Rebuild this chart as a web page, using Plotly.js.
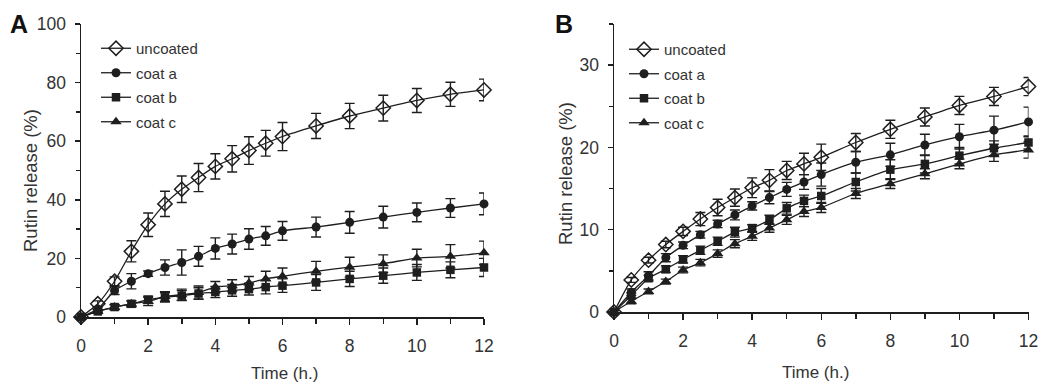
<!DOCTYPE html>
<html>
<head>
<meta charset="utf-8">
<script src="https://cdn.plot.ly/plotly-3.0.1.min.js"></script>
<style>html,body{margin:0;padding:0;background:#fff;}#chart{width:1038px;height:385px;}</style>
</head>
<body>
<div id="chart"></div>
<script>
// ---- data ----
const time = [0, 0.5, 1, 1.5, 2, 2.5, 3, 3.5, 4, 4.5, 5, 5.5, 6, 7, 8, 9, 10, 11, 12];
const seriesNames = ["uncoated", "coat a", "coat b", "coat c"];

// Panel A
const A_uncoated = [0, 4.5, 12.2, 22.4, 31.5, 38.6, 43.6, 47.6, 51.4, 54.0, 56.8, 59.3, 61.6, 65.2, 68.6, 71.3, 73.9, 76.0, 77.5];
const A_uncoated_err = [0.5, 1.0, 1.5, 3.6, 4.0, 4.3, 4.5, 4.8, 4.3, 4.5, 4.7, 4.4, 4.8, 4.3, 4.3, 4.4, 4.1, 4.1, 3.7];
const A_coatA = [0, 2.7, 9.0, 12.2, 14.8, 16.9, 18.6, 20.7, 23.4, 24.9, 26.6, 27.7, 29.4, 30.7, 32.3, 34.1, 35.7, 37.2, 38.6];
const A_coatA_err = [0.5, 0.8, 1.3, 2.6, 0.9, 2.6, 4.3, 3.4, 3.6, 3.4, 3.5, 3.2, 3.2, 3.4, 3.7, 3.7, 3.2, 3.2, 3.7];
const A_coatB = [0, 1.9, 3.4, 4.5, 5.9, 6.7, 7.3, 8.0, 8.5, 9.1, 9.5, 10.2, 10.7, 11.8, 13.0, 14.1, 15.2, 16.1, 16.9];
const A_coatB_err = [0.4, 0.6, 0.8, 1.0, 1.2, 1.6, 1.7, 2.0, 1.9, 2.0, 2.0, 2.3, 2.3, 2.7, 2.6, 2.6, 2.7, 2.7, 3.1];
const A_coatC = [0, 2.0, 3.4, 4.5, 5.3, 7.0, 7.6, 8.4, 10.2, 10.7, 11.6, 13.0, 13.9, 15.6, 17.0, 18.2, 20.1, 20.7, 21.9];
const A_coatC_err = [0.4, 0.6, 0.9, 1.0, 1.4, 1.6, 1.9, 2.2, 1.9, 2.0, 2.2, 2.6, 2.8, 3.4, 3.4, 3.0, 3.0, 4.0, 4.0];

// Panel B
const B_uncoated = [0, 3.9, 6.3, 8.2, 9.8, 11.3, 12.7, 13.9, 15.1, 16.0, 17.2, 18.0, 18.8, 20.6, 22.2, 23.7, 25.1, 26.2, 27.4];
const B_uncoated_err = [0.2, 0.3, 0.35, 0.4, 0.5, 0.8, 1.0, 1.05, 1.2, 1.3, 1.1, 1.3, 1.6, 1.1, 1.1, 1.1, 1.1, 1.1, 1.1];
const B_coatA = [0, 2.4, 4.4, 6.6, 8.1, 9.4, 10.7, 11.8, 12.9, 13.9, 14.9, 15.8, 16.7, 18.2, 19.1, 20.3, 21.3, 22.1, 23.1];
const B_coatA_err = [0.2, 0.4, 0.5, 0.5, 0.4, 0.4, 0.45, 0.6, 0.5, 0.75, 0.85, 0.9, 1.4, 1.3, 1.4, 1.3, 1.5, 1.7, 1.8];
const B_coatB = [0, 2.0, 4.1, 5.2, 6.4, 7.5, 8.6, 9.7, 10.2, 11.2, 12.6, 13.5, 14.1, 15.8, 17.3, 18.0, 19.0, 19.9, 20.6];
const B_coatB_err = [0.2, 0.3, 0.35, 0.4, 0.45, 0.5, 0.5, 0.6, 0.4, 0.55, 0.7, 0.7, 0.9, 1.1, 1.2, 1.1, 1.0, 0.9, 0.8];
const B_coatC = [0, 1.3, 2.5, 3.7, 5.1, 6.0, 7.1, 8.3, 9.2, 10.2, 11.2, 12.2, 12.7, 14.4, 15.6, 16.8, 18.0, 19.1, 19.7];
const B_coatC_err = [0.2, 0.3, 0.3, 0.3, 0.35, 0.4, 0.45, 0.5, 0.5, 0.5, 0.55, 0.6, 0.6, 0.6, 0.6, 0.6, 0.6, 0.8, 1.0];

// ---- styling ----
const INK = '#1e1e1e';
const TXT = '#333333';
const SANS = '"Liberation Sans", Arial, sans-serif';
const W = 1038, H = 385;
const px = v => v / W;
const py = v => 1 - v / H;

const markerStyles = [
  {symbol: 'diamond-open', size: 11, color: INK, line: {color: INK, width: 1.5}},
  {symbol: 'circle', size: 9, color: INK, line: {color: INK, width: 0}},
  {symbol: 'square', size: 8.5, color: INK, line: {color: INK, width: 0}},
  {symbol: 'triangle-up', size: 10, color: INK, line: {color: INK, width: 0}}
];
const groups = ['u', 'a', 'b', 'c'];

function mk(yv, err, i, xa, ya, leg) {
  return {
    type: 'scatter', mode: 'lines+markers',
    x: time, y: yv, name: seriesNames[i],
    xaxis: xa, yaxis: ya, legend: leg, legendgroup: leg + groups[i],
    line: {color: INK, width: 1.3, shape: 'spline', smoothing: 0.6},
    marker: markerStyles[i],
    error_y: {type: 'data', array: err, visible: true, color: INK, thickness: 1.4, width: 5},
    cliponaxis: false
  };
}

const data = [
  mk(A_uncoated, A_uncoated_err, 0, 'x', 'y', 'legend'),
  mk(A_coatA, A_coatA_err, 1, 'x', 'y', 'legend'),
  mk(A_coatB, A_coatB_err, 2, 'x', 'y', 'legend'),
  mk(A_coatC, A_coatC_err, 3, 'x', 'y', 'legend'),
  mk(B_uncoated, B_uncoated_err, 0, 'x2', 'y2', 'legend2'),
  mk(B_coatA, B_coatA_err, 1, 'x2', 'y2', 'legend2'),
  mk(B_coatB, B_coatB_err, 2, 'x2', 'y2', 'legend2'),
  mk(B_coatC, B_coatC_err, 3, 'x2', 'y2', 'legend2')
];

const tickFont = {family: SANS, size: 17.5, color: TXT};
function xAxis(domain, anchor) {
  return {
    domain: domain, anchor: anchor, range: [0, 12], dtick: 2, tick0: 0,
    showgrid: false, zeroline: false, showline: true, linecolor: INK, linewidth: 1.5,
    ticks: 'outside', ticklen: 6, tickwidth: 1.5, tickcolor: INK,
    minor: {dtick: 1, ticks: 'outside', ticklen: 5, tickwidth: 1.5, tickcolor: INK},
    tickfont: tickFont, ticklabelstandoff: 6, ticklabeloverflow: 'allow', fixedrange: true
  };
}
function yAxis(domain, anchor, range, dtick, mdt) {
  return {
    domain: domain, anchor: anchor, range: range, dtick: dtick, tick0: 0,
    showgrid: false, zeroline: false, showline: true, linecolor: INK, linewidth: 1.5,
    ticks: 'outside', ticklen: 5, tickwidth: 1.5, tickcolor: INK,
    minor: {dtick: mdt, ticks: 'outside', ticklen: 4, tickwidth: 1.5, tickcolor: INK},
    tickfont: tickFont, ticklabelstandoff: 5, ticklabeloverflow: 'allow', fixedrange: true
  };
}

const legendBase = {
  font: {family: SANS, size: 15, color: TXT},
  bgcolor: 'rgba(0,0,0,0)', borderwidth: 0,
  xanchor: 'left', yanchor: 'top', tracegroupgap: 2, itemclick: false
};

const layout = {
  width: W, height: H,
  margin: {l: 0, r: 0, t: 0, b: 0},
  paper_bgcolor: '#fff', plot_bgcolor: '#fff',
  showlegend: true,
  xaxis: xAxis([px(81), px(484)], 'y'),
  yaxis: yAxis([py(317), py(24)], 'x', [0, 100], 20, 10),
  xaxis2: xAxis([px(614), px(1028.5)], 'y2'),
  yaxis2: yAxis([py(312), py(24)], 'x2', [0, 35], 10, 5),
  legend: Object.assign({}, legendBase, {x: px(96), y: py(32)}),
  legend2: Object.assign({}, legendBase, {x: px(624), y: py(33)}),
  annotations: [
    {text: '<b>A</b>', xref: 'paper', yref: 'paper', x: px(19), y: py(24), xanchor: 'center', yanchor: 'middle', showarrow: false, font: {family: SANS, size: 25, color: '#111'}},
    {text: '<b>B</b>', xref: 'paper', yref: 'paper', x: px(564), y: py(24), xanchor: 'center', yanchor: 'middle', showarrow: false, font: {family: SANS, size: 25, color: '#111'}},
    {text: 'Rutin release (%)', xref: 'paper', yref: 'paper', x: px(30), y: py(181), xanchor: 'center', yanchor: 'middle', textangle: -90, showarrow: false, font: {family: SANS, size: 18.5, color: TXT}},
    {text: 'Rutin release (%)', xref: 'paper', yref: 'paper', x: px(566), y: py(174), xanchor: 'center', yanchor: 'middle', textangle: -90, showarrow: false, font: {family: SANS, size: 18.5, color: TXT}},
    {text: 'Time (h.)', xref: 'paper', yref: 'paper', x: px(284.5), y: py(373), xanchor: 'center', yanchor: 'middle', showarrow: false, font: {family: SANS, size: 17, color: TXT}},
    {text: 'Time (h.)', xref: 'paper', yref: 'paper', x: px(815.5), y: py(372), xanchor: 'center', yanchor: 'middle', showarrow: false, font: {family: SANS, size: 17, color: TXT}}
  ]
};

Plotly.newPlot('chart', data, layout, {displayModeBar: false, staticPlot: true});
</script>
</body>
</html>
